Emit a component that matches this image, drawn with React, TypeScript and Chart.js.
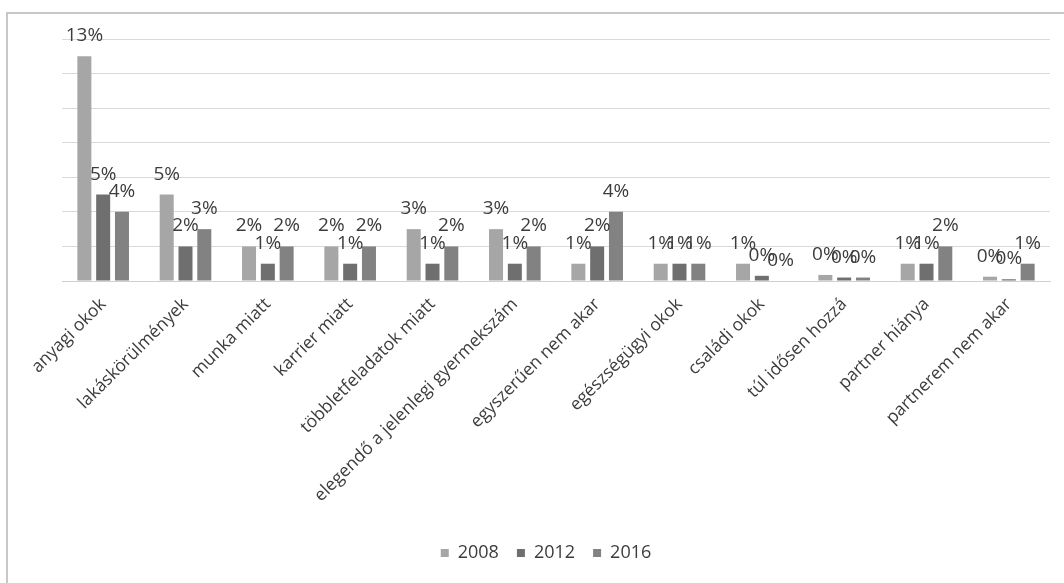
import React, { useEffect, useRef } from "react";
import { Chart, registerables } from "chart.js";

Chart.register(...registerables);

const categories = [
  "anyagi okok",
  "lakáskörülmények",
  "munka miatt",
  "karrier miatt",
  "többletfeladatok miatt",
  "elegendő a jelenlegi gyermekszám",
  "egyszerűen nem akar",
  "egészségügyi okok",
  "családi okok",
  "túl idősen hozzá",
  "partner hiánya",
  "partnerem nem akar",
];

const seriesNames = ["2008", "2012", "2016"];
const values2008 = [13, 5, 2, 2, 3, 3, 1, 1, 1, 0.35, 1, 0.25];
const values2012 = [5, 2, 1, 1, 1, 1, 2, 1, 0.3, 0.2, 1, 0.1];
const values2016 = [4, 3, 2, 2, 2, 2, 4, 1, 0, 0.2, 2, 1];
const seriesColors = ["#a6a6a6", "#6f6f6f", "#828282"];

const yMax = 14;
const yStep = 2;

const FONT = "'Open Sans', sans-serif";
const TEXT = "#3c3c3c";

const frameAndLabels = {
  id: "frameAndLabels",
  beforeDraw(chart: any) {
    const ctx = chart.ctx;
    ctx.save();
    ctx.fillStyle = "#ffffff";
    ctx.fillRect(0, 0, chart.width, chart.height);
    ctx.strokeStyle = "#c8c8c8";
    ctx.lineWidth = 2;
    ctx.beginPath();
    ctx.moveTo(7, chart.height + 2);
    ctx.lineTo(7, 13);
    ctx.lineTo(chart.width + 2, 13);
    ctx.stroke();
    ctx.restore();
  },
  afterDatasetsDraw(chart: any) {
    const ctx = chart.ctx;
    ctx.save();
    ctx.font = `19px ${FONT}`;
    ctx.fillStyle = TEXT;
    ctx.textAlign = "center";
    ctx.textBaseline = "alphabetic";
    chart.data.datasets.forEach((ds: any, i: number) => {
      const meta = chart.getDatasetMeta(i);
      meta.data.forEach((bar: any, j: number) => {
        const v = ds.data[j];
        ctx.fillText(`${Math.round(v)}%`, bar.x, bar.y - 15);
      });
    });
    ctx.restore();
  },
};

export default function App() {
  const ref = useRef<HTMLCanvasElement | null>(null);
  useEffect(() => {
    if (!ref.current) return;
    const chart = new Chart(ref.current, {
      type: "bar",
      data: {
        labels: categories,
        datasets: [values2008, values2012, values2016].map((d, i) => ({
          label: seriesNames[i],
          data: d,
          backgroundColor: seriesColors[i],
          categoryPercentage: 0.685,
          barPercentage: 0.745,
        })),
      },
      options: {
        animation: false,
        responsive: false,
        layout: { padding: { top: 39, left: 42, right: 14, bottom: 11 } },
        plugins: {
          legend: {
            position: "bottom",
            labels: {
              boxWidth: 8,
              boxHeight: 8,
              padding: 18,
              color: TEXT,
              font: { family: FONT, size: 18 },
            },
          },
          tooltip: { enabled: false },
        },
        scales: {
          x: {
            grid: { display: false },
            border: { display: true, color: "#d0d0d0", width: 1 },
            ticks: {
              autoSkip: false,
              minRotation: 45,
              maxRotation: 45,
              color: TEXT,
              font: { family: FONT, size: 17.5 },
              padding: 5,
            },
            afterFit: (s: any) => {
              s.height = 245;
            },
          },
          y: {
            min: 0,
            max: yMax,
            ticks: { display: false, stepSize: yStep },
            grid: { color: "#d9d9d9", drawTicks: false },
            border: { display: false },
            afterFit: (s: any) => {
              s.width = 20;
            },
          },
        },
      },
      plugins: [frameAndLabels],
    });
    return () => chart.destroy();
  }, []);
  return (
    <div style={{ position: "fixed", left: 0, top: 0, width: 1064, height: 583, background: "#fff" }}>
      <canvas ref={ref} width={1064} height={583} />
    </div>
  );
}
